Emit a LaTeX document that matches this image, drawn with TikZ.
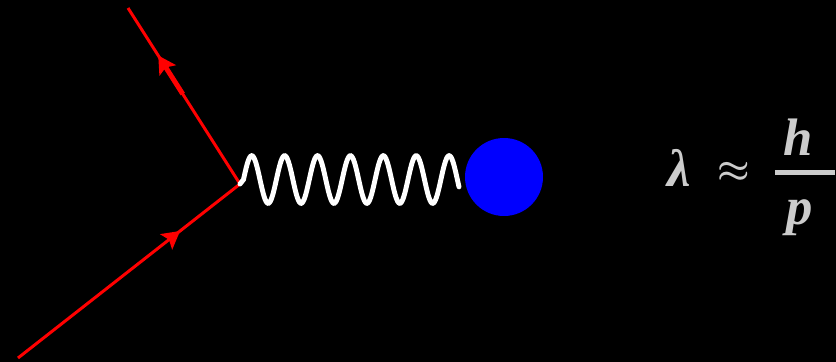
\documentclass[tikz,border=0pt]{standalone}
\usepackage{amsmath, amssymb}
\usepackage{bm}
\usepackage{fontspec}
\usepackage{xcolor}
\usetikzlibrary{arrows.meta, decorations.markings}

\newfontfamily\formulafont{Liberation Serif}

\definecolor{fermion}{RGB}{255,0,0}
\definecolor{blobblue}{RGB}{0,0,255}
\definecolor{formulagray}{RGB}{204,204,204}

\begin{document}
\begin{tikzpicture}[
    x=0.02cm, y=-0.02cm,
    fermion/.style={draw=fermion, line width=1.7pt,
                    postaction={decorate},
                    decoration={markings, mark=at position #1 with {\arrow{Stealth[length=10pt, width=11pt, inset=2pt]}}}},
    fermionshaft/.style={draw=fermion, line width=1.7pt,
                    postaction={decorate},
                    decoration={markings, mark=at position #1 with {%
                      \draw[draw=fermion, line width=2.8pt] (-26pt,0) -- (-6pt,0);
                      \arrow{Stealth[length=10pt, width=11pt, inset=2pt]}}}},
    photon/.style={draw=white, line width=2.8pt, line cap=round},
    blob/.style={circle, fill=blobblue, minimum size=1.56cm, inner sep=0pt},
    letter/.style={text=formulagray, inner sep=0pt, font=\formulafont\bfseries\itshape\fontsize{30}{36}\selectfont},
    relsym/.style={text=formulagray, inner sep=0pt, font=\fontsize{20.5}{24}\selectfont},
    fracbar/.style={draw=formulagray, line width=2.8pt},
  ]
  % background
  \fill[black] (0,0) rectangle (836,362);
  \useasboundingbox (0,0) rectangle (836,362);

  % vertex and external points
  \coordinate (v) at (240,184);
  \coordinate (ein) at (18,358);
  \coordinate (eout) at (128,8);
  \node[blob] (b) at (504,177) {};

  % fermion lines
  \draw[fermion=0.73] (ein) -- (v);
  \draw[fermionshaft=0.73] (v) -- (eout);

  % photon
  \draw[photon] (v) -- plot[domain=243.5:459, samples=240]
      (\x, {179.5 - 23.8*sin(10.942*(\x-243.5))});

  % de Broglie
  \node[letter, anchor=base west] (lam) at (667,186) {λ};
  \node[relsym] (approx) at (734,172.5) {$\bm{\approx}$};
  \node[letter, anchor=base] (num) at (798.5,155) {h};
  \node[letter, anchor=base] (den) at (800,224) {p};
  \coordinate (barl) at (775,172.5);
  \coordinate (barr) at (835,172.5);
  \draw[fracbar] (barl) -- (barr);
\end{tikzpicture}
\end{document}
